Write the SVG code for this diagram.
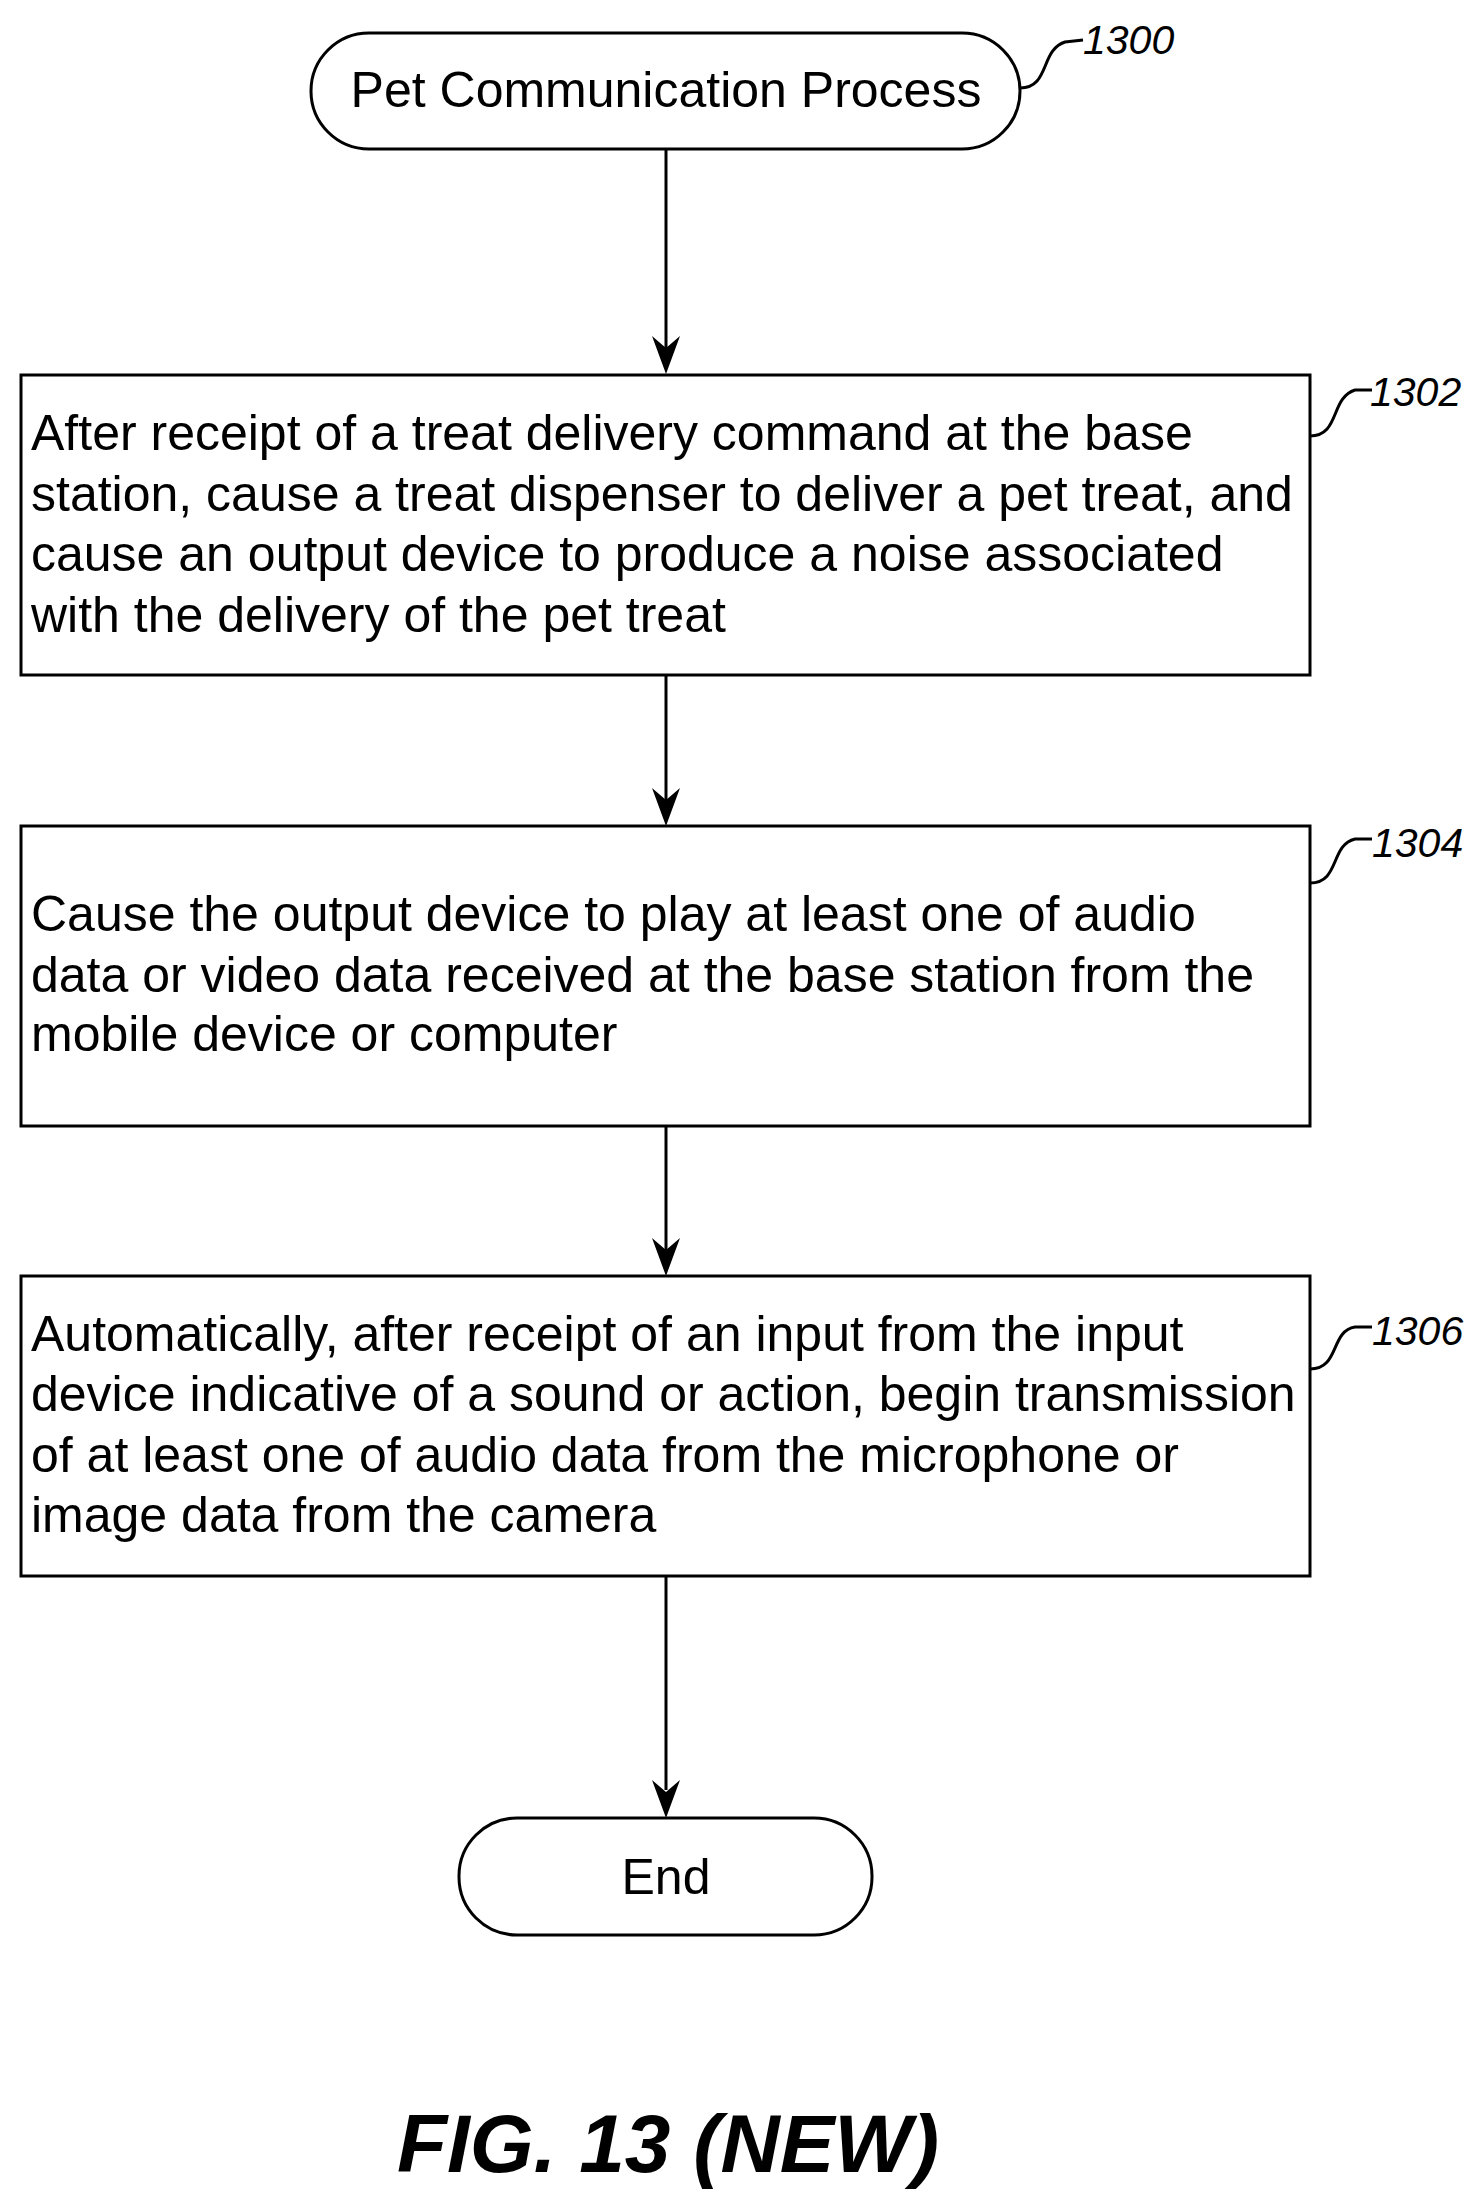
<svg xmlns="http://www.w3.org/2000/svg" width="1480" height="2203" viewBox="0 0 1480 2203">
<defs>
<style>
.s{fill:#fff;stroke:#000;stroke-width:3}
.t{font-family:"Liberation Sans",Arial,sans-serif;font-size:50px;fill:#000}
.r{font-family:"Liberation Sans",Arial,sans-serif;font-size:41px;font-style:italic;fill:#000}
.c{stroke:#000;stroke-width:3;fill:none}
</style>
</defs>
<g id="connectors">
<line class="c" x1="666" y1="149" x2="666" y2="350"/>
<path d="M652 336 L666 348 L680 336 L666 374 Z"/>
<line class="c" x1="666" y1="675" x2="666" y2="800"/>
<path d="M652 788 L666 800 L680 788 L666 826 Z"/>
<line class="c" x1="666" y1="1126" x2="666" y2="1250"/>
<path d="M652 1238 L666 1250 L680 1238 L666 1276 Z"/>
<line class="c" x1="666" y1="1576" x2="666" y2="1790"/>
<path d="M652 1780 L666 1792 L680 1780 L666 1818 Z"/>
<path class="c" d="M1020 88 C1050 88 1040 50 1065 42 L1083 40" stroke-width="2.5"/>
<path class="c" d="M1310 436 C1340 436 1330 398 1355 390 L1372 390" stroke-width="2.5"/>
<path class="c" d="M1310 883 C1340 883 1330 845 1355 839 L1372 839" stroke-width="2.5"/>
<path class="c" d="M1310 1369 C1340 1369 1330 1331 1355 1327 L1372 1327" stroke-width="2.5"/>
</g>
<g id="start">
<rect class="s" x="311" y="33" width="709" height="116" rx="58"/>
<text class="t" x="666" y="107" text-anchor="middle">Pet Communication Process</text>
<text class="r" x="1083" y="54">1300</text>
</g>
<g id="n1302">
<rect class="s" x="21" y="375" width="1289" height="300"/>
<text class="t" x="31" y="450">After receipt of a treat delivery command at the base</text>
<text class="t" x="31" y="511">station, cause a treat dispenser to deliver a pet treat, and</text>
<text class="t" x="31" y="571">cause an output device to produce a noise associated</text>
<text class="t" x="31" y="632">with the delivery of the pet treat</text>
<text class="r" x="1370" y="406">1302</text>
</g>
<g id="n1304">
<rect class="s" x="21" y="826" width="1289" height="300"/>
<text class="t" x="31" y="931">Cause the output device to play at least one of audio</text>
<text class="t" x="31" y="992">data or video data received at the base station from the</text>
<text class="t" x="31" y="1051">mobile device or computer</text>
<text class="r" x="1372" y="857">1304</text>
</g>
<g id="n1306">
<rect class="s" x="21" y="1276" width="1289" height="300"/>
<text class="t" x="31" y="1351">Automatically, after receipt of an input from the input</text>
<text class="t" x="31" y="1411">device indicative of a sound or action, begin transmission</text>
<text class="t" x="31" y="1472">of at least one of audio data from the microphone or</text>
<text class="t" x="31" y="1532">image data from the camera</text>
<text class="r" x="1372" y="1345">1306</text>
</g>
<g id="end">
<rect class="s" x="459" y="1818" width="413" height="117" rx="58"/>
<text class="t" x="666" y="1894" text-anchor="middle">End</text>
</g>
<text x="668" y="2172" text-anchor="middle" font-family="Liberation Sans,Arial,sans-serif" font-size="82" font-weight="bold" font-style="italic">FIG. 13 (NEW)</text>
</svg>
